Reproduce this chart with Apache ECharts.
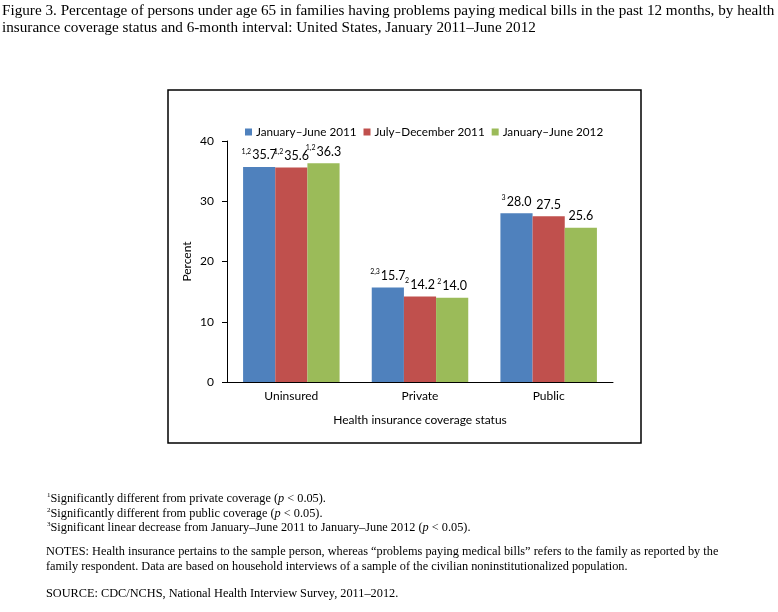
<!DOCTYPE html>
<html>
<head>
<meta charset="utf-8">
<script src="https://cdn.jsdelivr.net/npm/echarts@6/dist/echarts.min.js"></script>
<style>
html,body{margin:0;padding:0;background:#fff;}
#c{width:778px;height:612px;}
</style>
</head>
<body>
<div id="c"></div>
<script>
const categories = ['Uninsured', 'Private', 'Public'];
const seriesNames = ['January\u2013June 2011', 'July\u2013December 2011', 'January\u2013June 2012'];
const valsJanJun2011 = [35.7, 15.7, 28.0];
const valsJulDec2011 = [35.6, 14.2, 27.5];
const valsJanJun2012 = [36.3, 14.0, 25.6];
const supJanJun2011 = ['1,2', '2,3', '3'];
const supJulDec2011 = ['1,2', '2', ''];
const supJanJun2012 = ['1,2', '2', ''];
const yTicks = [0, 10, 20, 30, 40];
const colors = ['#4F81BD', '#C0504D', '#9BBB59'];

const titleLines = [
  'Figure 3. Percentage of persons under age 65 in families having problems paying medical bills in the past 12 months, by health',
  'insurance coverage status and 6-month interval: United States, January 2011\u2013June 2012'
];
const footnotes = [
  ['1', 'Significantly different from private coverage (', 'p', ' < 0.05).'],
  ['2', 'Significantly different from public coverage (', 'p', ' < 0.05).'],
  ['3', 'Significant linear decrease from January\u2013June 2011 to January\u2013June 2012 (', 'p', ' < 0.05).']
];
const notesLines = [
  'NOTES: Health insurance pertains to the sample person, whereas \u201cproblems paying medical bills\u201d refers to the family as reported by the',
  'family respondent. Data are based on household interviews of a sample of the civilian noninstitutionalized population.'
];
const sourceLine = 'SOURCE: CDC/NCHS, National Health Interview Survey, 2011\u20132012.';

const chartFont = 'Lato, "Open Sans", sans-serif';
const serif = '"Liberation Serif", "DejaVu Serif", serif';

function mkSeries(name, vals, sups, color) {
  return {
    name: name,
    type: 'bar',
    barGap: '0%',
    barCategoryGap: '25%',
    itemStyle: { color: color },
    data: vals.map((v, i) => ({ value: v, sup: sups[i] })),
    label: {
      show: true,
      position: 'top',
      distance: 5,
      formatter: p => (p.data.sup ? '{s|' + p.data.sup + '}' : '') + '{v|' + p.value.toFixed(1) + '}',
      rich: {
        s: { fontSize: 7, fontFamily: chartFont, color: '#000', verticalAlign: 'top', lineHeight: 14, padding: [0, 1, 0, 0] },
        v: { fontSize: 12.5, fontFamily: chartFont, color: '#000', verticalAlign: 'bottom', lineHeight: 14 }
      }
    }
  };
}

const graphics = [
  { type: 'rect', shape: { x: 168, y: 90, width: 473, height: 353 }, style: { fill: 'none', stroke: '#000', lineWidth: 1.5 } }
];
titleLines.forEach((t, i) => {
  graphics.push({ type: 'text', left: 2, top: 4 + i * 17, style: { text: t, font: '15.2px ' + serif, fill: '#000' } });
});
footnotes.forEach((f, i) => {
  graphics.push({
    type: 'text', left: 47, top: 492 + i * 14.5,
    style: {
      text: '{s|' + f[0] + '}{n|' + f[1] + '}{i|' + f[2] + '}{n|' + f[3] + '}',
      rich: {
        s: { fontSize: 7, fontFamily: serif, fill: '#000', verticalAlign: 'top', lineHeight: 13 },
        n: { fontSize: 12.3, fontFamily: serif, fill: '#000', verticalAlign: 'bottom', lineHeight: 13 },
        i: { fontSize: 12.3, fontFamily: serif, fontStyle: 'italic', fill: '#000', verticalAlign: 'bottom', lineHeight: 13 }
      }
    }
  });
});
notesLines.forEach((t, i) => {
  graphics.push({ type: 'text', left: 46, top: 546 + i * 15, style: { text: t, font: '12.3px ' + serif, fill: '#000' } });
});
graphics.push({ type: 'text', left: 46, top: 588, style: { text: sourceLine, font: '12.3px ' + serif, fill: '#000' } });

const chart = echarts.init(document.getElementById('c'), null, { renderer: 'canvas' });
chart.setOption({
  animation: false,
  backgroundColor: '#fff',
  textStyle: { fontFamily: chartFont },
  legend: {
    data: seriesNames,
    left: 240, top: 121,
    itemWidth: 7, itemHeight: 7, itemGap: 7,
    icon: 'rect',
    textStyle: { fontSize: 11.7, color: '#000', fontFamily: chartFont, padding: [0, 0, 0, -1] }
  },
  grid: { left: 227, right: 165, top: 141, bottom: 230, containLabel: false },
  xAxis: {
    type: 'category',
    data: categories,
    axisLine: { lineStyle: { color: '#000', width: 1 } },
    axisTick: { show: false },
    axisLabel: { color: '#000', fontSize: 12, margin: 8, fontFamily: chartFont },
    name: 'Health insurance coverage status',
    nameLocation: 'middle',
    nameGap: 32,
    nameTextStyle: { color: '#000', fontSize: 12, fontFamily: chartFont }
  },
  yAxis: {
    type: 'value',
    min: yTicks[0], max: yTicks[yTicks.length - 1], interval: 10,
    axisLine: { show: true, lineStyle: { color: '#000', width: 1 } },
    axisTick: { show: true, inside: false, length: 5, lineStyle: { color: '#000' } },
    splitLine: { show: false },
    axisLabel: { color: '#000', fontSize: 12, margin: 13, fontFamily: chartFont },
    name: 'Percent',
    nameLocation: 'middle',
    nameRotate: 90,
    nameGap: 34,
    nameTextStyle: { color: '#000', fontSize: 12, fontFamily: chartFont }
  },
  series: [
    mkSeries(seriesNames[0], valsJanJun2011, supJanJun2011, colors[0]),
    mkSeries(seriesNames[1], valsJulDec2011, supJulDec2011, colors[1]),
    mkSeries(seriesNames[2], valsJanJun2012, supJanJun2012, colors[2])
  ],
  graphic: graphics
});
</script>
</body>
</html>
